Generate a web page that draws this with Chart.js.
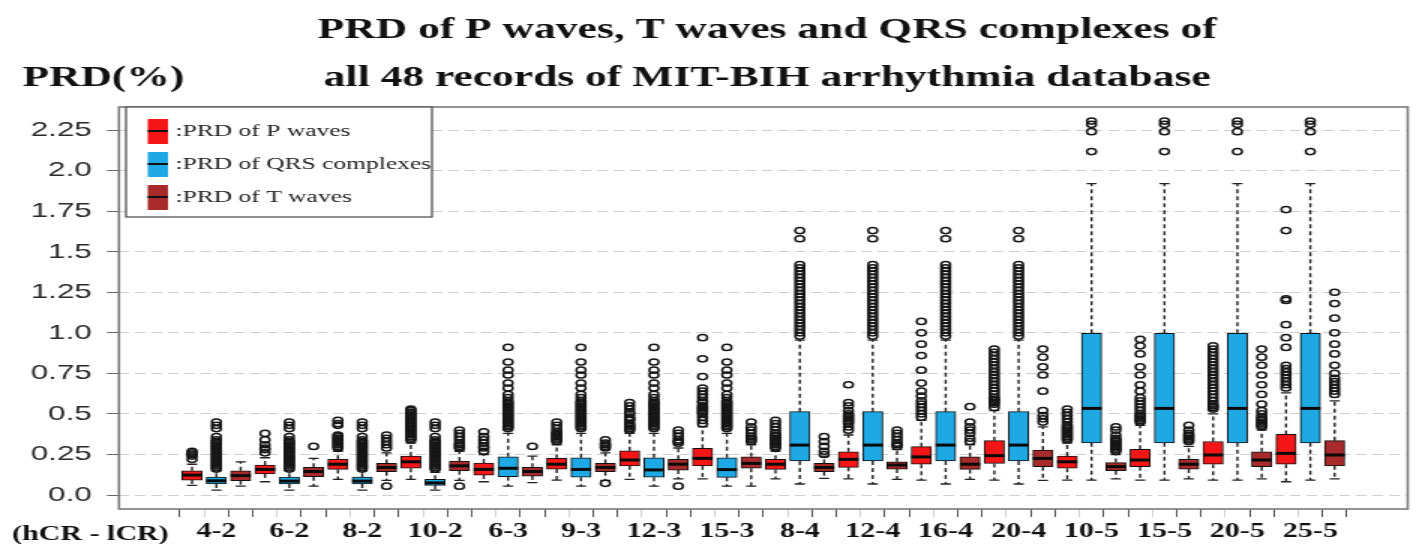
<!DOCTYPE html>
<html>
<head>
<meta charset="utf-8">
<script src="https://cdn.jsdelivr.net/npm/chart.js@4.4.1/dist/chart.umd.min.js"></script>
<style>
  html, body { margin: 0; padding: 0; background: #fff; }
  #prd { display: block; }
</style>
</head>
<body>
<!-- the canvas is drawn narrow and shown wide, which gives the figure its stretched look -->
<canvas id="prd" width="944" height="544" style="width:1416px;height:544px"></canvas>
<script>
// compression ratio pairs (hCR - lCR)
const groups = ['4-2', '6-2', '8-2', '10-2', '6-3', '9-3', '12-3', '15-3',
                '8-4', '12-4', '16-4', '20-4', '10-5', '15-5', '20-5', '25-5'];

const yTicks = [0, 0.25, 0.5, 0.75, 1.0, 1.25, 1.5, 1.75, 2.0, 2.25];
const yTickLabels = ['0.0', '0.25', '0.5', '0.75', '1.0', '1.25', '1.5', '1.75', '2.0', '2.25'];

// PRD of P waves
const pLow  = [0.06, 0.082, 0.097, 0.097, 0.082, 0.092, 0.097, 0.10, 0.10, 0.10, 0.092, 0.092, 0.092, 0.092, 0.092, 0.082];
const pQ1   = [0.092, 0.13, 0.158, 0.165, 0.123, 0.16, 0.18, 0.179, 0.158, 0.171, 0.19, 0.195, 0.165, 0.175, 0.19, 0.19];
const pMed  = [0.123, 0.158, 0.19, 0.205, 0.158, 0.19, 0.216, 0.226, 0.19, 0.22, 0.235, 0.243, 0.205, 0.216, 0.247, 0.257];
const pQ3   = [0.15, 0.185, 0.22, 0.24, 0.197, 0.226, 0.273, 0.288, 0.22, 0.267, 0.298, 0.335, 0.24, 0.282, 0.33, 0.374];
const pHigh = [0.19, 0.23, 0.27, 0.32, 0.25, 0.31, 0.38, 0.42, 0.27, 0.37, 0.46, 0.52, 0.32, 0.43, 0.50, 0.63];
const pOut = [
  [0.22, 0.24, 0.25, 0.26, 0.27],
  [0.26, 0.28, 0.29, 0.31, 0.34, 0.38],
  [0.29, 0.30, 0.31, 0.32, 0.33, 0.34, 0.35, 0.36, 0.37, 0.43, 0.44, 0.46],
  [0.34, 0.35, 0.36, 0.37, 0.38, 0.39, 0.40, 0.41, 0.42, 0.43, 0.44, 0.45, 0.46, 0.47, 0.48, 0.49, 0.50, 0.51, 0.52, 0.53],
  [0.27, 0.29, 0.30, 0.32, 0.34, 0.36, 0.39],
  [0.33, 0.34, 0.35, 0.36, 0.37, 0.38, 0.39, 0.41, 0.43, 0.45],
  [0.40, 0.41, 0.42, 0.43, 0.44, 0.46, 0.47, 0.48, 0.50, 0.51, 0.53, 0.55, 0.57],
  [0.44, 0.46, 0.48, 0.50, 0.51, 0.52, 0.53, 0.54, 0.55, 0.57, 0.58, 0.60, 0.62, 0.64, 0.66, 0.73, 0.84, 0.97],
  [0.29, 0.30, 0.31, 0.32, 0.33, 0.34, 0.35, 0.36, 0.37, 0.38, 0.40, 0.42, 0.44, 0.46],
  [0.40, 0.42, 0.44, 0.45, 0.46, 0.47, 0.48, 0.49, 0.50, 0.52, 0.55, 0.57, 0.68],
  [0.48, 0.50, 0.52, 0.54, 0.56, 0.58, 0.61, 0.64, 0.69, 0.77, 0.86, 0.93, 1.00, 1.07],
  [0.54, 0.56, 0.57, 0.58, 0.59, 0.60, 0.62, 0.64, 0.66, 0.68, 0.70, 0.72, 0.74, 0.76, 0.78, 0.80, 0.82, 0.84, 0.86, 0.88, 0.90],
  [0.34, 0.35, 0.36, 0.37, 0.38, 0.39, 0.40, 0.41, 0.42, 0.43, 0.45, 0.47, 0.49, 0.51, 0.53],
  [0.45, 0.46, 0.47, 0.48, 0.49, 0.50, 0.52, 0.54, 0.56, 0.58, 0.60, 0.64, 0.68, 0.74, 0.79, 0.87, 0.92, 0.96],
  [0.53, 0.54, 0.55, 0.56, 0.58, 0.60, 0.62, 0.64, 0.66, 0.68, 0.70, 0.72, 0.74, 0.76, 0.78, 0.80, 0.82, 0.84, 0.86, 0.88, 0.90, 0.92],
  [0.66, 0.68, 0.70, 0.72, 0.74, 0.76, 0.78, 0.80, 0.91, 0.97, 1.05, 1.20, 1.21, 1.63, 1.76]
];

// PRD of QRS complexes (same for every hCR at a given lCR)
const qLow  = [0.03, 0.03, 0.03, 0.03, 0.055, 0.055, 0.055, 0.055, 0.068, 0.068, 0.068, 0.068, 0.092, 0.092, 0.092, 0.092];
const qQ1   = [0.068, 0.068, 0.068, 0.06, 0.113, 0.11, 0.11, 0.109, 0.21, 0.21, 0.21, 0.21, 0.322, 0.322, 0.322, 0.322];
const qMed  = [0.088, 0.086, 0.086, 0.075, 0.165, 0.158, 0.155, 0.157, 0.308, 0.308, 0.308, 0.308, 0.534, 0.534, 0.534, 0.534];
const qQ3   = [0.11, 0.11, 0.11, 0.097, 0.236, 0.23, 0.23, 0.23, 0.514, 0.514, 0.514, 0.514, 0.997, 0.997, 0.997, 0.997];
const qHigh = [0.15, 0.15, 0.15, 0.14, 0.38, 0.38, 0.38, 0.38, 0.955, 0.955, 0.955, 0.955, 1.92, 1.92, 1.92, 1.92];
const qOutL2 = [0.16, 0.17, 0.18, 0.19, 0.20, 0.21, 0.22, 0.23, 0.24, 0.25, 0.26, 0.27, 0.28, 0.29, 0.30, 0.31,
                0.32, 0.33, 0.34, 0.36, 0.41, 0.43, 0.45];
const qOutL3 = [0.41, 0.42, 0.43, 0.44, 0.45, 0.46, 0.47, 0.48, 0.49, 0.50, 0.51, 0.52, 0.53, 0.54, 0.55, 0.56,
                0.57, 0.58, 0.60, 0.62, 0.66, 0.69, 0.74, 0.77, 0.82, 0.91];
const qOutL4 = [0.98, 1.00, 1.02, 1.04, 1.06, 1.08, 1.10, 1.12, 1.14, 1.16, 1.18, 1.20, 1.22, 1.24, 1.26, 1.28,
                1.30, 1.32, 1.34, 1.36, 1.38, 1.40, 1.42, 1.58, 1.63];
const qOutL5 = [2.117, 2.24, 2.285, 2.305];
const qOut = [qOutL2, qOutL2, qOutL2, qOutL2, qOutL3, qOutL3, qOutL3, qOutL3,
              qOutL4, qOutL4, qOutL4, qOutL4, qOutL5, qOutL5, qOutL5, qOutL5];

// PRD of T waves
const tLow  = [0.055, 0.055, 0.09, 0.09, 0.076, 0.09, 0.10, 0.055, 0.103, 0.097, 0.097, 0.09, 0.10, 0.10, 0.10, 0.10];
const tQ1   = [0.088, 0.113, 0.144, 0.15, 0.117, 0.144, 0.154, 0.165, 0.144, 0.16, 0.158, 0.175, 0.15, 0.16, 0.175, 0.18];
const tMed  = [0.12, 0.145, 0.17, 0.18, 0.145, 0.17, 0.19, 0.195, 0.17, 0.185, 0.19, 0.226, 0.175, 0.19, 0.216, 0.247];
const tQ3   = [0.15, 0.171, 0.195, 0.21, 0.171, 0.195, 0.22, 0.236, 0.195, 0.205, 0.236, 0.277, 0.20, 0.22, 0.267, 0.335];
const tHigh = [0.205, 0.226, 0.26, 0.27, 0.24, 0.26, 0.29, 0.31, 0.24, 0.28, 0.31, 0.42, 0.25, 0.30, 0.40, 0.58];
const tOut = [
  [],
  [0.30],
  [0.055, 0.29, 0.31, 0.33, 0.35, 0.37],
  [0.055, 0.29, 0.30, 0.31, 0.32, 0.34, 0.36, 0.38, 0.40],
  [0.30],
  [0.072, 0.29, 0.30, 0.31, 0.32, 0.34],
  [0.055, 0.32, 0.33, 0.34, 0.36, 0.38, 0.40],
  [0.33, 0.34, 0.35, 0.36, 0.38, 0.40, 0.42, 0.45],
  [0.25, 0.27, 0.30, 0.33, 0.36],
  [0.30, 0.31, 0.32, 0.34, 0.36, 0.38, 0.40],
  [0.33, 0.35, 0.38, 0.40, 0.42, 0.45, 0.545],
  [0.45, 0.47, 0.49, 0.52, 0.64, 0.74, 0.79, 0.85, 0.90],
  [0.27, 0.28, 0.29, 0.30, 0.31, 0.32, 0.33, 0.34, 0.35, 0.37, 0.40, 0.42],
  [0.33, 0.34, 0.35, 0.36, 0.37, 0.38, 0.40, 0.43],
  [0.42, 0.43, 0.44, 0.45, 0.46, 0.47, 0.48, 0.50, 0.52, 0.56, 0.62, 0.68, 0.74, 0.80, 0.85, 0.90],
  [0.62, 0.64, 0.66, 0.68, 0.70, 0.72, 0.75, 0.80, 0.87, 0.93, 1.00, 1.09, 1.18, 1.25]
];

const series = [
  { label: ':PRD of P waves', color: '#f41616', slot: 0, low: pLow, q1: pQ1, med: pMed, q3: pQ3, high: pHigh, out: pOut },
  { label: ':PRD of QRS complexes', color: '#1ea9e4', slot: 1, low: qLow, q1: qQ1, med: qMed, q3: qQ3, high: qHigh, out: qOut },
  { label: ':PRD of T waves', color: '#a82a2a', slot: 2, low: tLow, q1: tQ1, med: tMed, q3: tQ3, high: tHigh, out: tOut }
];

const xPos = (g, s) => g * 3 + s.slot;

const boxDatasets = series.map(s => ({
  type: 'bar',
  label: s.label,
  data: groups.map((g, i) => ({ x: xPos(i, s), y: [s.q1[i], s.q3[i]] })),
  backgroundColor: s.color,
  borderColor: '#111',
  borderWidth: 1,
  borderSkipped: false,
  barThickness: 13.4,
  grouped: false,
  order: 2
}));

const outlierDatasets = series.map(s => ({
  type: 'scatter',
  label: s.label + ' outliers',
  data: s.out.flatMap((vals, i) => vals.map(v => ({ x: xPos(i, s), y: v }))),
  pointStyle: 'circle',
  pointRadius: 3.1,
  pointBorderWidth: 1.5,
  pointBorderColor: '#161616',
  pointBackgroundColor: 'rgba(255,255,255,0)',
  order: 1
}));

// whiskers, medians, frame, legend and titles
const boxPlotExtras = {
  id: 'boxPlotExtras',
  beforeDatasetsDraw(chart) {
    const { ctx, scales: { x, y } } = chart;
    ctx.save();
    ctx.strokeStyle = '#222';
    series.forEach(s => {
      groups.forEach((g, i) => {
        const px = x.getPixelForValue(xPos(i, s));
        ctx.lineWidth = 1.4;
        ctx.setLineDash([4, 3]);
        ctx.beginPath();
        ctx.moveTo(px, y.getPixelForValue(s.q3[i]));
        ctx.lineTo(px, y.getPixelForValue(s.high[i]));
        ctx.moveTo(px, y.getPixelForValue(s.q1[i]));
        ctx.lineTo(px, y.getPixelForValue(s.low[i]));
        ctx.stroke();
        ctx.setLineDash([]);
        ctx.lineWidth = 1.3;
        ctx.beginPath();
        [s.high[i], s.low[i]].forEach(v => {
          const py = y.getPixelForValue(v);
          ctx.moveTo(px - 3.4, py);
          ctx.lineTo(px + 3.4, py);
        });
        ctx.stroke();
      });
    });
    ctx.restore();
  },
  afterDatasetsDraw(chart) {
    const { ctx, scales: { x, y } } = chart;
    ctx.save();
    ctx.strokeStyle = '#0a0a0a';
    ctx.lineWidth = 3;
    series.forEach(s => {
      groups.forEach((g, i) => {
        const px = x.getPixelForValue(xPos(i, s));
        const py = y.getPixelForValue(s.med[i]);
        ctx.beginPath();
        ctx.moveTo(px - 6.7, py);
        ctx.lineTo(px + 6.7, py);
        ctx.stroke();
      });
    });
    ctx.restore();
  },
  afterDraw(chart) {
    const { ctx, chartArea: a } = chart;
    ctx.save();

    // plot frame
    ctx.strokeStyle = '#7a7a7a';
    ctx.lineWidth = 1.6;
    ctx.strokeRect(a.left, a.top, a.right - a.left, a.bottom - a.top);

    // legend box
    const lx = a.left + 4.7, ly = a.top, lw = 204, lh = 110;
    ctx.fillStyle = '#fff';
    ctx.fillRect(lx, ly, lw, lh);
    ctx.strokeStyle = '#555';
    ctx.lineWidth = 1.3;
    ctx.strokeRect(lx, ly, lw, lh);
    ctx.font = '17px "Liberation Serif"';
    ctx.textBaseline = 'middle';
    ctx.textAlign = 'left';
    series.forEach((s, k) => {
      const cy = ly + 24 + k * 33;
      ctx.fillStyle = s.color;
      ctx.fillRect(lx + 14.5, cy - 12, 13.5, 25);
      ctx.strokeStyle = '#111';
      ctx.lineWidth = 2;
      ctx.beginPath();
      ctx.moveTo(lx + 14.5, cy);
      ctx.lineTo(lx + 28, cy);
      ctx.stroke();
      ctx.fillStyle = '#222';
      ctx.fillText(s.label, lx + 33, cy + 1);
    });

    // titles
    ctx.fillStyle = '#111';
    ctx.textBaseline = 'alphabetic';
    ctx.font = 'bold 29px "Liberation Serif"';
    ctx.textAlign = 'center';
    ctx.fillText('PRD of P waves, T waves and QRS complexes of', 511.5, 38);
    ctx.fillText('all 48 records of MIT-BIH arrhythmia database', 511.5, 86);
    ctx.textAlign = 'left';
    ctx.fillText('PRD(%)', 15, 86);
    ctx.font = 'bold 20px "Liberation Serif"';
    ctx.fillText('(hCR - lCR)', 8, 540);
    ctx.restore();
  }
};

new Chart(document.getElementById('prd'), {
  data: { datasets: [...boxDatasets, ...outlierDatasets] },
  options: {
    responsive: false,
    animation: false,
    events: [],
    layout: { padding: { left: 0, right: 4, top: 107, bottom: 0 } },
    plugins: { legend: { display: false }, tooltip: { enabled: false }, title: { display: false } },
    scales: {
      x: {
        type: 'linear',
        min: -2.455,
        max: 49.455,
        afterFit: scale => { scale.height = 35; },
        afterBuildTicks: scale => {
          scale.ticks = groups.flatMap((g, i) => series.map(s => ({ value: xPos(i, s) })));
        },
        border: { display: false },
        grid: {
          drawOnChartArea: false,
          tickLength: 8,
          tickWidth: 1,
          tickColor: c => (c.index % 3 === 1 ? '#d0d0d0' : '#555')
        },
        ticks: {
          autoSkip: false,
          maxRotation: 0,
          padding: 3,
          color: '#111',
          font: { family: '"Liberation Serif"', weight: 'bold', size: 20 },
          callback: (v, i) => (i % 3 === 1 ? groups[(i - 1) / 3] : '')
        }
      },
      y: {
        type: 'linear',
        min: -0.086,
        max: 2.392,
        afterFit: scale => { scale.width = 79.3; },
        afterBuildTicks: scale => { scale.ticks = yTicks.map(v => ({ value: v })); },
        border: { display: false, dash: [7, 4] },
        grid: {
          color: '#cfcfcf',
          lineWidth: 1,
          tickLength: 8,
          tickColor: '#666',
          tickBorderDash: []
        },
        ticks: {
          padding: 10,
          color: '#2a2a2a',
          font: { family: '"Liberation Sans"', size: 21 },
          callback: (v, i) => yTickLabels[i]
        }
      }
    }
  },
  plugins: [boxPlotExtras]
});
</script>
</body>
</html>
